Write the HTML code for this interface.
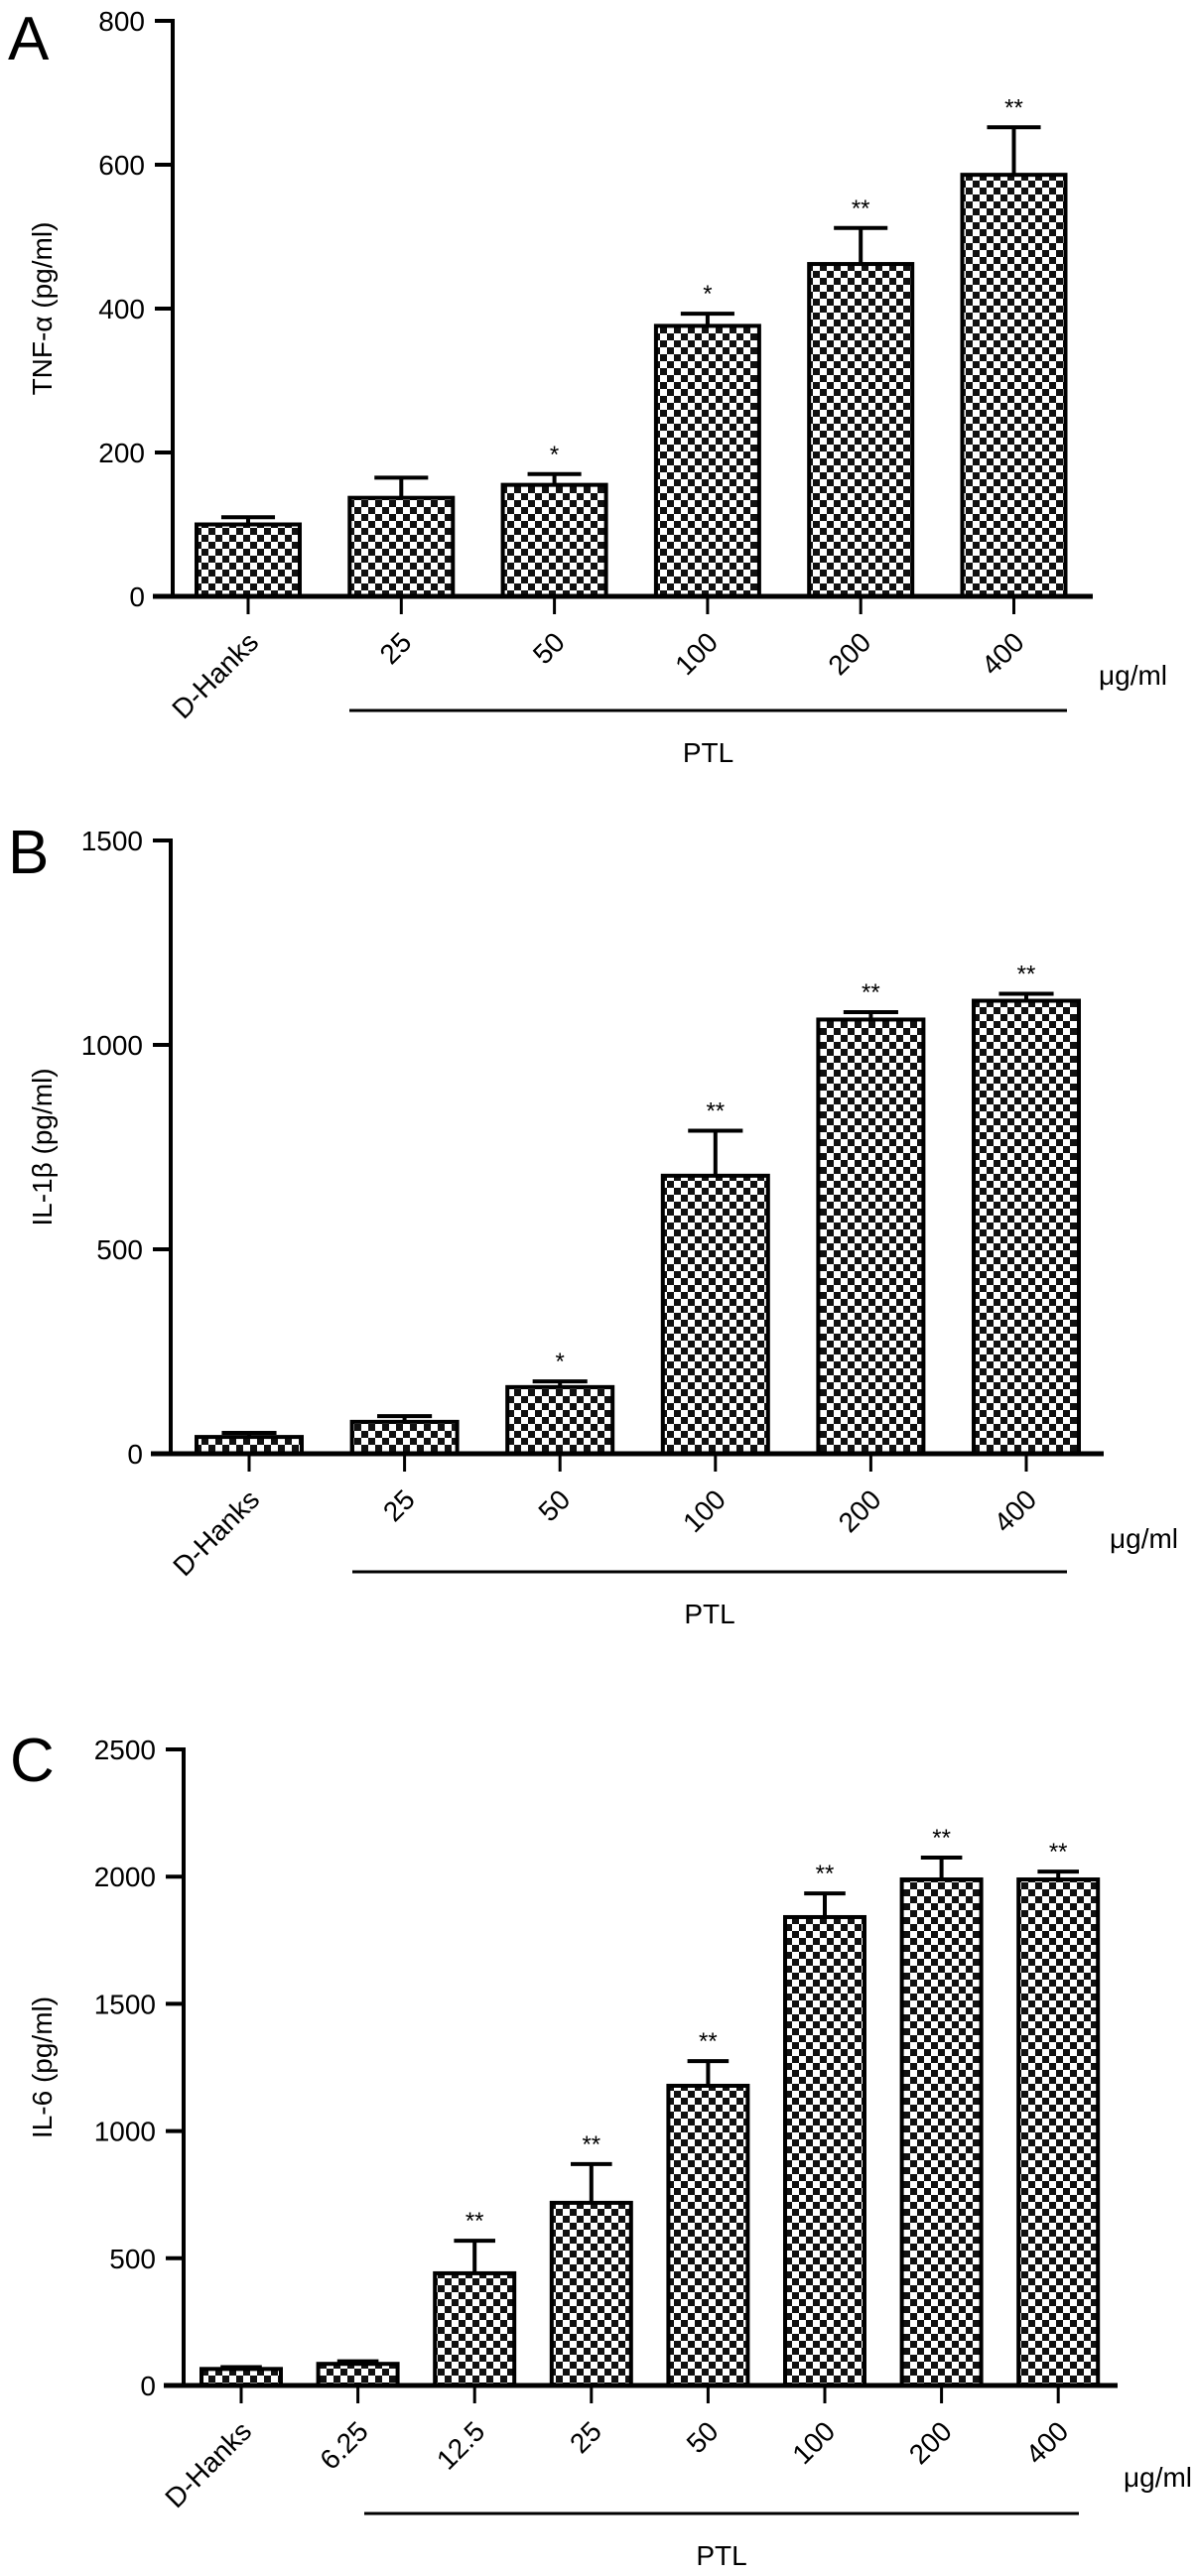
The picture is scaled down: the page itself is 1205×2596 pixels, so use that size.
<!DOCTYPE html>
<html><head><meta charset="utf-8"><style>
body{margin:0;background:#fff;}
svg{display:block;font-family:"Liberation Sans",Arial,sans-serif;}
</style></head><body>
<svg id="fig" width="1205" height="2596" viewBox="0 0 1205 2596" xmlns="http://www.w3.org/2000/svg">
<defs>
<pattern id="chk" width="14" height="14" patternUnits="userSpaceOnUse">
<rect width="14" height="14" fill="#fff"/>
<rect x="0" y="0" width="7" height="7" fill="#111"/>
<rect x="7" y="7" width="7" height="7" fill="#111"/>
</pattern>
</defs>
<g id="root"></g>
</svg>
<script>
// Panel A data
const catsA = ["D-Hanks","25","50","100","200","400"];
const valsA = [100,137,155,376,462,586];
const errsA = [110,165,170,393,512,652];
const sigA  = ["","","*","*","**","**"];
const ticksA = [0,200,400,600,800];
// Panel B data
const catsB = ["D-Hanks","25","50","100","200","400"];
const valsB = [41,78,163,680,1062,1108];
const errsB = [51,92,177,790,1080,1125];
const sigB  = ["","","*","**","**","**"];
const ticksB = [0,500,1000,1500];
// Panel C data
const catsC = ["D-Hanks","6.25","12.5","25","50","100","200","400"];
const valsC = [65,85,441,718,1178,1841,1989,1989];
const errsC = [72,95,569,870,1275,1934,2075,2020];
const sigC  = ["","","**","**","**","**","**","**"];
const ticksC = [0,500,1000,1500,2000,2500];

const NS="http://www.w3.org/2000/svg";
const root=document.getElementById('root');
function mk(tag,attrs,parent,text){const e=document.createElementNS(NS,tag);for(const k in attrs)e.setAttribute(k,attrs[k]);if(text!==undefined)e.textContent=text;(parent||root).appendChild(e);return e;}

function panel(cfg){
  const g=mk('g',{});
  
  
  const ymax=cfg.ticks[cfg.ticks.length-1];
  const y=v=>cfg.y0-(v/ymax)*(cfg.y0-cfg.yTop);
  const x=i=>cfg.x0c+i*cfg.step;
  // letter
  const L=mk('text',{x:cfg.letterX,y:cfg.letterY,'font-size':62,fill:'#000'},g,cfg.letter);
  
  
  // y axis
  const ya=mk('line',{x1:cfg.ax,y1:y(ymax)-2,x2:cfg.ax,y2:cfg.y0+2,stroke:'#000','stroke-width':4},g);
  
  
  cfg.ticks.forEach(t=>{
    const tl=mk('line',{x1:cfg.ax-18,y1:y(t),x2:cfg.ax,y2:y(t),stroke:'#000','stroke-width':4},g);
    
    
    const tx=mk('text',{x:cfg.ax-28,y:y(t)+10,'font-size':28,'text-anchor':'end',fill:'#000'},g,String(t));
    
    
  });
  const yt=mk('text',{x:0,y:0,'font-size':28,'text-anchor':'middle',fill:'#000',transform:`translate(${cfg.titleX},${(cfg.y0+y(ymax))/2}) rotate(-90)`},g,cfg.title);
  
  
  // bars
  cfg.vals.forEach((v,i)=>{
    const cx=x(i), w=cfg.bw;
    const b=mk('rect',{x:cx-w/2,y:y(v),width:w,height:cfg.y0-y(v),fill:'url(#chk)',stroke:'#000','stroke-width':4},g);
    
    
    const e=cfg.errs[i];
    const el=mk('path',{d:`M${cx},${y(v)} V${y(e)} M${cx-w*0.26},${y(e)} H${cx+w*0.26}`,stroke:'#000','stroke-width':4,fill:'none'},g);
    
    
    if(cfg.sig[i]){
      const s=mk('text',{x:cx,y:y(e)-12,'font-size':24,'text-anchor':'middle',fill:'#000'},g,cfg.sig[i]);
      
      
    }
    const xt=mk('line',{x1:cx,y1:cfg.y0,x2:cx,y2:cfg.y0+18,stroke:'#000','stroke-width':3},g);
    
    
    const lx=cx+12, ly=cfg.y0+48;
    const xl=mk('text',{x:lx,y:ly,'font-size':28,'text-anchor':'end',fill:'#000',transform:`rotate(-45 ${lx} ${ly})`},g,cfg.cats[i]);
    
    
  });
  const xa=mk('line',{x1:cfg.ax-20,y1:cfg.y0,x2:cfg.axEnd,y2:cfg.y0,stroke:'#000','stroke-width':5},g);
  
  
  const u=mk('text',{x:cfg.axEnd+6,y:cfg.unitY,'font-size':28,fill:'#000'},g,'μg/ml');
  
  
  const pl=mk('line',{x1:cfg.ptlX1,y1:cfg.ptlY,x2:cfg.ptlX2,y2:cfg.ptlY,stroke:'#000','stroke-width':3},g);
  
  
  const pt=mk('text',{x:(cfg.ptlX1+cfg.ptlX2)/2,y:cfg.ptlY+52,'font-size':28,'text-anchor':'middle',fill:'#000'},g,'PTL');
  
  
}

panel({name:'panel-a-tnf',letter:'A',letterX:8,letterY:60,cats:catsA,vals:valsA,errs:errsA,sig:sigA,ticks:ticksA,
  y0:601,yTop:21,ax:174,axEnd:1101,x0c:250,step:154.3,bw:104,title:'TNF-α (pg/ml)',titleX:52,
  unitY:690,ptlX1:352,ptlY:716,ptlX2:1075});
panel({name:'panel-b-il1b',letter:'B',letterX:8,letterY:880,cats:catsB,vals:valsB,errs:errsB,sig:sigB,ticks:ticksB,
  y0:1465,yTop:847,ax:172,axEnd:1112,x0c:251,step:156.6,bw:106,title:'IL-1β (pg/ml)',titleX:52,
  unitY:1560,ptlX1:355,ptlY:1584,ptlX2:1075});
panel({name:'panel-c-il6',letter:'C',letterX:10,letterY:1795,cats:catsC,vals:valsC,errs:errsC,sig:sigC,ticks:ticksC,
  y0:2404,yTop:1763,ax:185,axEnd:1126,x0c:243,step:117.6,bw:80,title:'IL-6 (pg/ml)',titleX:52,
  unitY:2506,ptlX1:367,ptlY:2533,ptlX2:1087});
</script>
</body></html>
